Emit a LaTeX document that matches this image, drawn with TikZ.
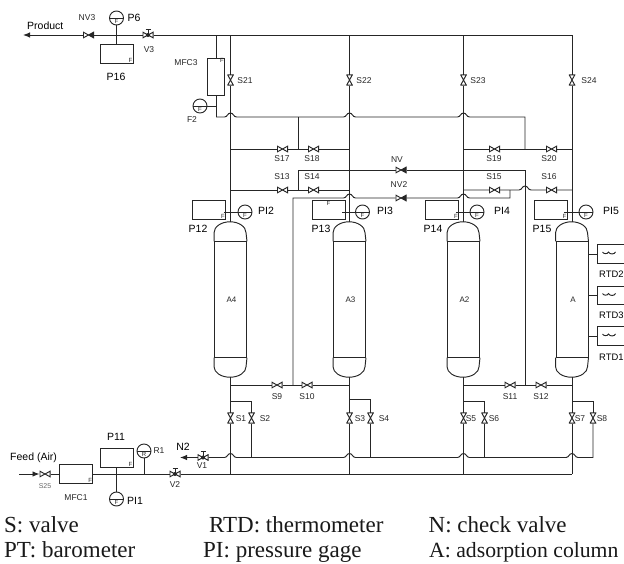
\documentclass[tikz,border=0pt]{standalone}
\usepackage{fontspec}
\usetikzlibrary{arrows.meta}
\setmainfont{Liberation Sans}
\newfontfamily\legendfont{Liberation Serif}
\newcommand{\hop}[1]{-- ([xshift=-6pt]#1) .. controls ([xshift=-3pt]#1) and ([shift={(-3pt,4pt)}]#1) .. ([yshift=4pt]#1) .. controls ([shift={(3pt,4pt)}]#1) and ([xshift=3pt]#1) .. ([xshift=6pt]#1)}
\tikzset{
    pipe/.style={line width=0.95pt,black!85},
    flow/.style={pipe,-{Latex[length=7pt,width=5.5pt]}},
    tag/.style={font=\fontsize{6}{6}\selectfont,inner sep=1pt,black!85},
    lab/.style={font=\fontsize{8.5}{9}\selectfont,inner sep=0pt,black!85},
    biglab/.style={font=\fontsize{10.5}{11}\selectfont,inner sep=0pt},
    legend/.style={font=\legendfont\fontsize{23}{25}\selectfont,inner sep=0pt,anchor=base west,black!90},
    valve/.style={fill=white,inner sep=0pt,outer sep=0pt,minimum width=11pt,minimum height=6.5pt,
        path picture={\draw[pipe,shift={(path picture bounding box.center)}]
            (-5.1pt,2.8pt) -- (5.1pt,-2.8pt) -- (5.1pt,2.8pt) -- (-5.1pt,-2.8pt) -- cycle;}},
    vvalve/.style={fill=white,inner sep=0pt,outer sep=0pt,minimum width=6.5pt,minimum height=11pt,
        path picture={\draw[pipe,shift={(path picture bounding box.center)}]
            (-2.8pt,5.1pt) -- (2.8pt,5.1pt) -- (-2.8pt,-5.1pt) -- (2.8pt,-5.1pt) -- cycle;}},
    checkvalve/.style={valve,
        path picture={\draw[pipe,shift={(path picture bounding box.center)}]
            (-5.1pt,2.8pt) -- (5.1pt,-2.8pt) -- (5.1pt,2.8pt) -- (-5.1pt,-2.8pt) -- cycle;
            \fill[black!85,shift={(path picture bounding box.center)}] (0pt,0pt) -- (5.1pt,2.8pt) -- (5.1pt,-2.8pt) -- cycle;}},
    handvalve/.style={valve,
        path picture={\draw[pipe,shift={(path picture bounding box.center)}]
            (-5.1pt,2.8pt) -- (5.1pt,-2.8pt) -- (5.1pt,2.8pt) -- (-5.1pt,-2.8pt) -- cycle;
            \fill[black!85,shift={(path picture bounding box.center)}] (0pt,0pt) circle (2pt);}},
    gauge/.style={pipe,draw,circle,inner sep=0pt,minimum size=14pt,
        path picture={\draw[pipe] (path picture bounding box.west) -- (path picture bounding box.east);
            \node[tag] at ([yshift=-3pt]path picture bounding box.center) {#1};}},
    gauge/.default=F,
    meterbox/.style={pipe,draw,inner sep=0pt,minimum width=33pt,minimum height=18.5pt,
        label={[tag,anchor=#1]#1:F}},
    meterbox/.default=south east,
    vessel/.style={pipe,draw,inner sep=0pt,minimum width=32pt,minimum height=115.5pt},
    rtdbox/.style={pipe,draw,inner sep=0pt,minimum width=38pt,minimum height=18.5pt},
}

\begin{document}
\begin{tikzpicture}[x=1pt,y=-1pt]
    \useasboundingbox (0,0) rectangle (624,563);

    %columns with their domes
    \foreach \cname/\clab/\cx in {A4/A4/230.5,A3/A3/349.5,A2/A2/463.5,A1/A/572}{
        \node[vessel] (\cname) at (\cx,299.5) {};
        \node[tag,font=\fontsize{8}{8}\selectfont] (\cname-lab) at (\cx+1,299.5) {\clab};
        \draw[pipe] (\cname.north west) -- ++(0pt,8.5pt) arc[start angle=180,end angle=0,x radius=16pt,y radius=11pt] -- (\cname.north east);
        \draw[pipe] (\cname.south west) -- ++(0pt,-9pt) arc[start angle=180,end angle=360,x radius=16pt,y radius=10.5pt] -- (\cname.south east);
        \coordinate (\cname-top) at ([yshift=19.5pt]\cname.north);
        \coordinate (\cname-bot) at ([yshift=-19.5pt]\cname.south);
        \coordinate (\cname-in) at (\cx,35);
        \coordinate (\cname-out) at (\cx,474);
    }

    %valves
    \foreach \v/\x/\y in {S17/282.5/149,S18/313.5/149,S19/494.5/149,S20/551.5/149,
        S13/282.5/190,S14/313.5/190,S15/494.5/190,S16/551.5/190,
        S9/277/385,S10/307/385,S11/510/385,S12/541/385,S25/45/474}
        \node[valve] (\v) at (\x,\y) {};
    \foreach \v/\x/\y in {S21/230.5/80,S22/349.5/80,S23/463.5/80,S24/572/80,
        S1/230.5/418,S2/251.5/418,S3/349.5/418,S4/370.5/418,
        S5/463.5/418,S6/484.5/418,S7/572/418,S8/593/418}
        \node[vvalve] (\v) at (\x,\y) {};
    \foreach \v/\x/\y in {NV3/88.5/35,NV/401/170,NV2/401/198}
        \node[checkvalve] (\v) at (\x,\y) {};
    \foreach \v/\x/\y in {V3/148/35,V1/203/457.5,V2/175/474}{
        \node[handvalve] (\v) at (\x,\y) {};
        \draw[pipe] (\v.center) -- ++(0pt,6pt) ++(-2.5pt,0pt) -- ++(5pt,0pt);
    }

    %instruments
    \node[gauge] (PI6g) at (116.5,18) {};
    \node[meterbox] (P16) at (116.5,54) {};
    \node[meterbox=north east,minimum width=17pt,minimum height=37pt] (MFC3) at (216,76.5) {};
    \node[gauge] (F2g) at (200,106) {};
    \node[meterbox] (P12) at (209,210) {};
    \node[meterbox=north] (P13) at (328.5,210) {};
    \node[meterbox] (P14) at (442,210) {};
    \node[meterbox] (P15) at (550.5,210) {};
    \node[gauge] (PI2g) at (245,212) {};
    \node[gauge] (PI3g) at (362.5,212) {};
    \node[gauge] (PI4g) at (477,212) {};
    \node[gauge] (PI5g) at (586,212) {};
    \node[meterbox,minimum width=33.5pt] (MFC1) at (76,474) {};
    \node[meterbox] (P11) at (116.5,458) {};
    \node[gauge] (PI1g) at (116.5,499) {};
    \node[gauge=R] (R1g) at (144,451) {};

    %temperature boxes on the last column
    \foreach \rname/\ry in {RTD2/254,RTD3/295.5,RTD1/336}{
        \node[rtdbox] (\rname) at (616,\ry) {};
        \draw[pipe] (A1.east |- \rname.west) -- (\rname.west);
        \draw[pipe] ([shift={(6pt,2pt)}]\rname.west) to[bend right=70] ++(6pt,0pt) to[bend right=70] ++(7pt,0pt);
    }

    %junctions
    \coordinate (tip) at (23,35);
    \coordinate (mfctop) at (216,35);
    \coordinate (mfcbot) at (216,117);
    \coordinate (f2tee) at (216,106);
    \coordinate (riserend) at (525,117);
    \coordinate (riserlow) at (525,149);
    \coordinate (leftup) at (298,117);
    \coordinate (leftlow) at (298,149);
    \coordinate (nvstart) at (298,170);
    \coordinate (nvdrop) at (298,190);
    \coordinate (nvend) at (525,170);
    \coordinate (rightfoot) at (525,385);
    \coordinate (nv2start) at (293,198);
    \coordinate (nv2end) at (510,198);
    \coordinate (s15tee) at (510,190);
    \coordinate (leftfoot) at (293,385);
    \coordinate (feedin) at (19,474);
    \coordinate (r1tee) at (144,474);
    \coordinate (n2tip) at (180,457.5);
    \coordinate (n2end) at (593,457.5);
    \foreach \c/\x/\y in {h4a/230.5/117,h3a/349.5/117,h2a/463.5/117,
        h3b/349.5/198,h2b/463.5/198,hs/525/190,
        h4c/230.5/457.5,h3c/349.5/457.5,h2c/463.5/457.5,h1c/572/457.5,
        l149a/230.5/149,r149a/349.5/149,l149b/463.5/149,r149b/572/149,
        l190a/230.5/190,r190a/349.5/190,l190b/463.5/190,r190b/572/190,
        l385a/230.5/385,r385a/349.5/385,l385b/463.5/385,r385b/572/385,
        t2/230.5/401,e2/251.5/457.5,t4/349.5/399.5,e4/370.5/457.5,
        t6/463.5/401,e6/484.5/457.5,t8/572/401}
        \coordinate (\c) at (\x,\y);

    %product line and the top header
    \draw[pipe] (A1-in) -- (V3);
    \draw[pipe] (V3) -- (NV3);
    \draw[flow] (NV3) -- (tip);
    \draw[pipe] (PI6g) -- (P16);
    \draw[pipe] (mfctop) -- (MFC3);
    \draw[pipe] (MFC3) -- (mfcbot);
    \draw[pipe] (F2g) -- (f2tee);

    %column risers
    \foreach \c/\u/\l in {A4/S21/S1,A3/S22/S3,A2/S23/S5,A1/S24/S7}{
        \draw[pipe] (\c-in) -- (\u) -- (\c-top);
        \draw[pipe] (\c-bot) -- (\l) -- (\c-out);
    }

    %hopping line from the flow meter
    \draw[pipe] (mfcbot) \hop{h4a} \hop{h3a} \hop{h2a} -- (riserend) -- (riserlow);
    \draw[pipe] (leftup) -- (leftlow);

    %valve rows
    \draw[pipe] (l149a) -- (S17) -- (S18) -- (r149a);
    \draw[pipe] (l149b) -- (S19) -- (S20) -- (r149b);
    \draw[pipe] (l190a) -- (S13) -- (S14) -- (r190a);
    \draw[pipe] (l190b) -- (S15) -- (s15tee) \hop{hs} -- (S16) -- (r190b);
    \draw[pipe] (nvdrop) -- (nvstart) -- (NV) -- (nvend) -- (rightfoot);
    \draw[pipe] (leftfoot) -- (nv2start) \hop{h3b} -- (NV2);
    \draw[pipe] (NV2) \hop{h2b} -- (nv2end) -- (s15tee);
    \draw[pipe] (l385a) -- (S9) -- (S10) -- (r385a);
    \draw[pipe] (l385b) -- (S11) -- (S12) -- (r385b);

    %gauge stubs
    \draw[pipe] ([xshift=-2pt]P12.east |- PI2g) -- (PI2g);
    \draw[pipe] ([xshift=-3pt]P13.east |- PI3g) -- (PI3g);
    \draw[pipe] ([xshift=-3pt]P14.east |- PI4g) -- (PI4g);
    \draw[pipe] ([xshift=-3pt]P15.east |- PI5g) -- (PI5g);

    %feed line
    \draw[flow] (feedin) -- (S25);
    \draw[pipe] (S25) -- (MFC1);
    \draw[pipe] (MFC1) -- (V2);
    \draw[pipe] (V2) -- (A1-out);
    \draw[pipe] (P11) -- (PI1g);
    \draw[pipe] (R1g) -- (r1tee);

    %nitrogen line and the second valves
    \draw[flow] (V1) -- (n2tip);
    \draw[pipe] (V1) \hop{h4c} \hop{h3c} \hop{h2c} \hop{h1c} -- (n2end) -- (S8);
    \draw[pipe] (t2) -| (S2);
    \draw[pipe] (S2) -- (e2);
    \draw[pipe] (t4) -| (S4);
    \draw[pipe] (S4) -- (e4);
    \draw[pipe] (t6) -| (S6);
    \draw[pipe] (S6) -- (e6);
    \draw[pipe] (t8) -| (S8);

    %small labels
    \foreach \t/\x/\y in {S21/245/81,S22/364/81,S23/478/81,S24/589/81,
        S17/282/159,S18/312/159,S13/282/177,S14/312/177,
        S19/494/159,S20/549/159,S15/494/177,S16/549/177,
        NV/397/160,NV2/399/185,S9/277/397,S10/307/397,S11/510/397,S12/541/397,
        S1/241/419,S2/265/419,S3/360/419,S4/384/419,
        S5/471/419,S6/494/419,S7/580/419,S8/602/419,
        NV3/87/18,V3/149/50,MFC3/186/63,F2/192/120,
        MFC1/76/498,V1/202/466,V2/175/485,R1/159/451}
        \node[lab] (l\t) at (\x,\y) {\t};
    \node[lab,font=\fontsize{7}{8}\selectfont,black!60] (lS25) at (45,486) {S25};

    %large labels
    \foreach \t/\x/\y in {P6/134/18,P16/116/77,PI2/266/211,PI3/385/211,PI4/502/211,PI5/611/211,
        P12/198/229,P13/321/229,P14/433/229,P15/542/229,P11/116/437,PI1/135/501,N2/183/447}
        \node[biglab] (l\t) at (\x,\y) {\t};
    \node[biglab,anchor=west] (lproduct) at (27,26) {Product};
    \node[biglab,anchor=west] (lfeed) at (10,458) {Feed (Air)};
    \foreach \t/\y in {RTD2/274.5,RTD3/315.5,RTD1/357.5}
        \node[biglab,anchor=west,font=\fontsize{9.4}{10}\selectfont] (l\t) at (599,\y) {\t};

    %legend
    \node[legend] (legS) at (4,532) {S: valve};
    \node[legend] (legRTD) at (209,532) {RTD: thermometer};
    \node[legend] (legN) at (428.5,532) {N: check valve};
    \node[legend] (legPT) at (4,557.5) {PT: barometer};
    \node[legend] (legPI) at (203,557.5) {PI: pressure gage};
    \node[legend,font=\legendfont\fontsize{21.7}{25}\selectfont] (legA) at (429,557.5) {A: adsorption column};
\end{tikzpicture}
\end{document}
